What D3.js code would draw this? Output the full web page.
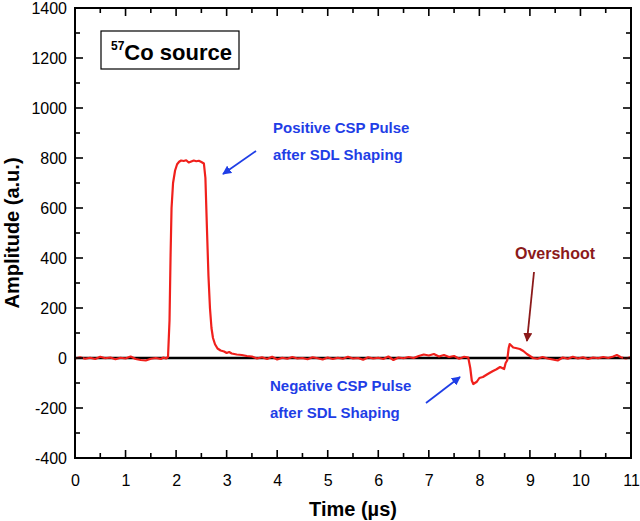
<!DOCTYPE html>
<html><head><meta charset="utf-8">
<script src="https://cdn.jsdelivr.net/npm/d3@7"></script>
<style>body{margin:0;background:#fff}svg{display:block;font-family:Arial,"Liberation Sans",sans-serif}</style>
</head><body>
<svg id="c" width="640" height="521"></svg>
<script>
const time = [0.00,0.10,0.20,0.30,0.40,0.50,0.60,0.70,0.80,0.90,1.00,1.10,1.20,1.30,1.40,1.50,1.60,1.70,1.75,1.80,1.84,
1.87,1.89,1.91,1.94,1.98,2.02,2.06,2.10,2.15,2.20,2.25,2.30,2.35,2.40,2.45,2.50,2.55,2.58,2.61,2.64,2.67,2.70,2.73,2.77,2.82,2.88,2.95,3.00,3.05,3.10,3.20,3.30,3.40,3.50,
3.60,3.70,3.80,3.90,4.00,4.10,4.20,4.30,4.40,4.50,4.60,4.70,4.80,4.90,5.00,5.10,5.20,5.30,5.40,5.50,5.60,5.70,5.80,5.90,6.00,6.10,6.20,6.30,6.40,6.50,6.60,6.70,6.80,6.90,7.00,7.10,7.20,7.30,7.40,7.50,7.60,7.70,7.78,
7.82,7.85,7.88,7.91,7.95,8.00,8.07,8.15,8.20,8.27,8.34,8.41,8.45,8.49,8.52,8.55,8.58,8.60,8.63,8.67,8.72,8.80,8.87,8.94,9.00,9.06,
9.15,9.25,9.35,9.45,9.55,9.60,9.65,9.75,9.85,9.95,10.05,10.15,10.25,10.35,10.45,10.55,10.65,10.72,10.80,10.90,11.00];
const amplitude = [-2,3,-3,1,-4,5,-1,2,-5,1,-2,6,-4,-8,-10,-3,0,-4,2,-2,4,
150,400,600,700,750,775,785,790,788,791,782,786,790,787,789,784,778,720,520,330,200,120,80,55,38,30,26,20,24,18,14,12,8,6,
-2,3,-4,5,-6,1,-3,4,-2,0,-5,3,-1,-6,2,-4,1,-3,5,-2,0,-7,3,-2,1,-4,6,-8,2,-1,4,0,8,14,10,16,6,12,4,8,-3,5,2,
-40,-90,-104,-100,-95,-80,-76,-66,-60,-52,-45,-36,-40,-44,-20,-10,40,56,50,42,40,36,28,16,8,0,
-3,4,-2,-6,-10,-4,2,-3,5,-2,3,-4,2,-1,4,0,6,12,3,-2,4];

const xTicks = [0,1,2,3,4,5,6,7,8,9,10,11];
const yTicks = [-400,-200,0,200,400,600,800,1000,1200,1400];

const svg = d3.select("#c");
const L=75,R=631,T=8,B=458;
const x = d3.scaleLinear().domain([0,11]).range([L,R]);
const y = d3.scaleLinear().domain([-400,1400]).range([B,T]);

// zero line
svg.append("line").attr("x1",L).attr("x2",R).attr("y1",y(0)).attr("y2",y(0)).attr("stroke","#000").attr("stroke-width",2.5);

// signal
svg.append("path").datum(time.map((t,i)=>[t,amplitude[i]]))
  .attr("fill","none").attr("stroke","#f0201c").attr("stroke-width",2.2).attr("stroke-linejoin","round")
  .attr("d",d3.line().x(d=>x(d[0])).y(d=>y(d[1])));

// axes
const xMinor = d3.range(0,11.01,0.5);
const yMinor = d3.range(-400,1401,100);
const fs = "16px";
const bottom = svg.append("g").attr("transform",`translate(0,${B})`)
  .call(d3.axisBottom(x).tickValues(xTicks).tickFormat(d=>String(d)).tickSize(0).tickPadding(17));
const left = svg.append("g").attr("transform",`translate(${L},0)`)
  .call(d3.axisLeft(y).tickValues(yTicks).tickFormat(d=>String(d)).tickSize(0).tickPadding(8));
[bottom,left].forEach(g=>{g.select(".domain").remove();g.selectAll("text").attr("font-size",fs).attr("font-family","Arial, Liberation Sans, sans-serif").attr("fill","#000");});

// ticks inward on all sides
const tk = svg.append("g").attr("stroke","#000").attr("stroke-width",1.6);
xMinor.forEach(v=>{
  const major = Math.abs(v-Math.round(v))<1e-6; const len = major?8:5;
  tk.append("line").attr("x1",x(v)).attr("x2",x(v)).attr("y1",B).attr("y2",B-len);
  tk.append("line").attr("x1",x(v)).attr("x2",x(v)).attr("y1",T).attr("y2",T+len);
});
yMinor.forEach(v=>{
  const major = v%200===0; const len = major?8:5;
  tk.append("line").attr("x1",L).attr("x2",L+len).attr("y1",y(v)).attr("y2",y(v));
  tk.append("line").attr("x1",R).attr("x2",R-len).attr("y1",y(v)).attr("y2",y(v));
});
svg.append("rect").attr("x",L).attr("y",T).attr("width",R-L).attr("height",B-T).attr("fill","none").attr("stroke","#000").attr("stroke-width",2);

// axis titles
svg.append("text").attr("x",(L+R)/2).attr("y",516).attr("text-anchor","middle").attr("font-size","20px").attr("font-weight","bold").text("Time (µs)");
svg.append("text").attr("transform",`translate(19,${(T+B)/2}) rotate(-90)`).attr("text-anchor","middle").attr("font-size","20px").attr("font-weight","bold").text("Amplitude (a.u.)");

// legend box
svg.append("rect").attr("x",101).attr("y",31).attr("width",138).attr("height",38).attr("fill","#fff").attr("stroke","#000").attr("stroke-width",1.2);
const lt = svg.append("text").attr("x",111).attr("y",60).attr("font-weight","bold");
lt.append("tspan").attr("font-size","12px").attr("dy",-10).text("57");
lt.append("tspan").attr("font-size","22px").attr("dy",10).text("Co source");

// annotations
const blue="#1f3ee6", dred="#8b1a1a";
const defs = svg.append("defs");
[["ab",blue],["ar",dred]].forEach(([id,c])=>{
  defs.append("marker").attr("id",id).attr("viewBox","0 0 10 10").attr("refX",9).attr("refY",5)
   .attr("markerWidth",5).attr("markerHeight",5).attr("orient","auto")
   .append("path").attr("d","M0,0L10,5L0,10z").attr("fill",c);
});
function note(lines,x0,y0,c){
  lines.forEach((s,i)=>svg.append("text").attr("x",x0).attr("y",y0+i*27).attr("fill",c).attr("font-size","15px").attr("font-weight","bold").text(s));
}
note(["Positive CSP Pulse","after SDL Shaping"],273,133,blue);
note(["Negative CSP Pulse","after SDL Shaping"],270,391,blue);
svg.append("text").attr("x",555).attr("y",259).attr("text-anchor","middle").attr("fill",dred).attr("font-size","16px").attr("font-weight","bold").text("Overshoot");
svg.append("line").attr("x1",256).attr("y1",151).attr("x2",223).attr("y2",174).attr("stroke",blue).attr("stroke-width",1.8).attr("marker-end","url(#ab)");
svg.append("line").attr("x1",426).attr("y1",403).attr("x2",460).attr("y2",377).attr("stroke",blue).attr("stroke-width",1.8).attr("marker-end","url(#ab)");
svg.append("line").attr("x1",534).attr("y1",272).attr("x2",527).attr("y2",341).attr("stroke",dred).attr("stroke-width",1.8).attr("marker-end","url(#ar)");
</script>
</body></html>
